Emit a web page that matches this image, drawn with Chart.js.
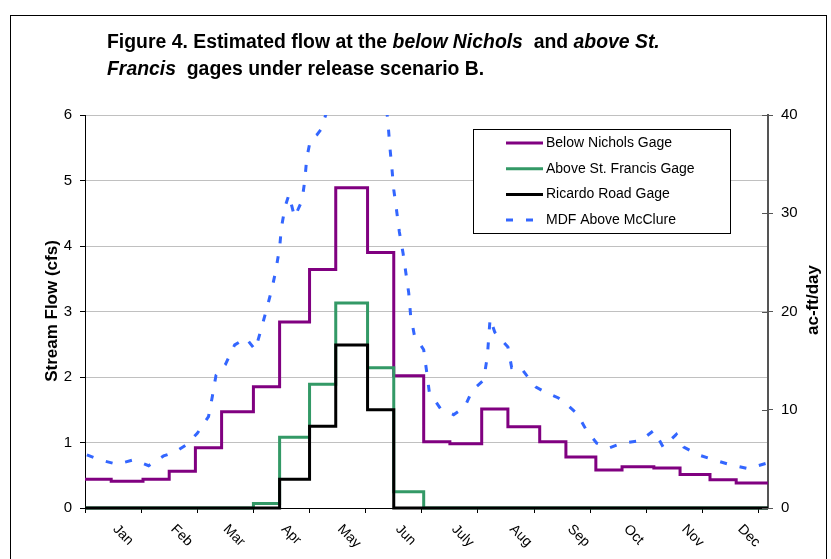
<!DOCTYPE html>
<html>
<head>
<meta charset="utf-8">
<script src="https://cdn.jsdelivr.net/npm/chart.js"></script>
<style>
  body { margin: 0; background: #fff; }
  #wrap { position: relative; width: 831px; height: 559px; overflow: hidden; }
  #frame { position: absolute; left: 10px; top: 15px; width: 815px; height: 600px; border: 1px solid #000; }
  #title { position: absolute; left: 107px; top: 28px; font: bold 19.4px "Liberation Sans", Arial, sans-serif; line-height: 27px; color: #000; }
  canvas { position: absolute; left: 0; top: 0; }
</style>
</head>
<body>
<div id="wrap">
  <div id="frame"></div>
  <canvas id="flowChart" width="831" height="559"></canvas>
  <div id="title">Figure 4. Estimated flow at the <i>below Nichols</i>&nbsp; and <i>above St.</i><br><i>Francis</i>&nbsp; gages under release scenario B.</div>
</div>

<script>
// semi-monthly release periods (day of year where each period starts)
const periodStart = [0, 14, 31, 45, 59, 73, 90, 104, 120, 134, 151, 165,
                     181, 195, 212, 226, 243, 257, 273, 287, 304, 318, 334, 348];
const yearEnd = 365;

// stream flow, cfs
const belowNichols = [0.44, 0.41, 0.44, 0.56, 0.92, 1.47, 1.85, 2.84, 3.64, 4.89, 3.90, 2.02,
                      1.01, 0.98, 1.51, 1.24, 1.01, 0.78, 0.58, 0.63, 0.61, 0.51, 0.43, 0.38];
const aboveStFrancis = [0, 0, 0, 0, 0, 0, 0.07, 1.08, 1.89, 3.13, 2.14, 0.25,
                        0, 0, 0, 0, 0, 0, 0, 0, 0, 0, 0, 0];
const ricardoRoad = [0, 0, 0, 0, 0, 0, 0, 0.44, 1.25, 2.49, 1.50, 0,
                     0, 0, 0, 0, 0, 0, 0, 0, 0, 0, 0, 0];

// MDF above McClure, ac-ft/day
const mdfDay = [1, 8, 17, 26, 34, 42, 48, 54, 60, 66, 68, 70, 75, 80, 86, 91, 94, 97, 100, 102,
                104, 105, 107, 109, 112, 116, 117.5, 118.5, 120.5, 124, 126, 129, 133, 138, 143, 148,
                153, 157, 160, 162, 163, 164, 165, 166.5, 168, 170, 171.5, 173, 174, 176, 181, 182.5,
                184, 190, 197, 203, 207, 213, 215, 216.5, 219, 223, 226, 228, 232.5, 236, 241, 247,
                253, 256.5, 263, 268, 273.5, 280, 287, 297, 304, 309, 316, 320, 328, 336, 345, 354.5, 364];
const mdfFlow = [5.4, 4.9, 4.45, 4.9, 4.3, 5.3, 5.7, 6.4, 7.6, 9.3, 11.3, 13.5, 14.6, 16.6, 17.3, 16.1, 18.1, 20.2, 22.4, 24.2,
                 26.5, 28.6, 30.7, 31.9, 29.6, 31.3, 33.4, 35.6, 37.5, 38.0, 38.5, 40.2, 42.5, 45.0, 47.0, 48.5,
                 48.0, 46.0, 43.0, 39.0, 36.6, 34.6, 32.4, 30.3, 28.1, 25.9, 23.9, 21.9, 19.6, 17.6, 16.1, 14.0,
                 11.8, 10.1, 9.5, 10.3, 12.0, 13.0, 15.4, 19.3, 17.9, 17.0, 16.4, 14.3, 14.4, 13.5, 12.3, 11.7,
                 11.2, 10.7, 9.6, 7.9, 6.6, 6.1, 6.6, 6.85, 7.9, 6.2, 7.5, 6.2, 5.4, 4.9, 4.4, 4.0, 4.55];

const monthNames = ['Jan', 'Feb', 'Mar', 'Apr', 'May', 'Jun', 'July', 'Aug', 'Sep', 'Oct', 'Nov', 'Dec'];
const monthLabelDay = [15, 46, 74, 105, 135, 166, 196, 227, 258, 288, 319, 349];
const tickDays = [0, 30, 60, 90, 120, 150, 180, 210, 240, 270, 300, 330, 360];
const rightTicks = [0, 10, 20, 30, 40];

const FONT = '"Liberation Sans", Arial, sans-serif';
Chart.defaults.font.family = FONT;
Chart.defaults.color = '#000';

function steps(values) {
    const pts = periodStart.map((d, i) => ({ x: d, y: values[i] }));
    pts.push({ x: yearEnd, y: values[values.length - 1] });
    return pts;
}

const series = [
    { label: 'Below Nichols Gage', color: '#800080' },
    { label: 'Above St. Francis Gage', color: '#339966' },
    { label: 'Ricardo Road Gage', color: '#000000' },
    { label: 'MDF Above McClure', color: '#3366ff', dash: [7, 13] }
];

/* month labels, axis titles, inner ticks and the boxed legend */
const decor = {
    id: 'decor',
    afterDraw(chart) {
        const ctx = chart.ctx;
        const xs = chart.scales.x;
        const y1 = chart.scales.y1;
        ctx.save();
        ctx.fillStyle = '#000';

        // right axis tick marks also cross into the plot
        ctx.strokeStyle = '#555';
        ctx.lineWidth = 1;
        rightTicks.forEach(v => {
            const py = Math.round(y1.getPixelForValue(v)) + 0.5;
            ctx.beginPath();
            ctx.moveTo(y1.left - 6, py);
            ctx.lineTo(y1.left, py);
            ctx.stroke();
        });

        // rotated month labels
        ctx.font = '14px ' + FONT;
        ctx.textAlign = 'left';
        ctx.textBaseline = 'middle';
        monthNames.forEach((m, i) => {
            const px = xs.getPixelForValue(monthLabelDay[i]);
            ctx.save();
            ctx.translate(px + 2, 527);
            ctx.rotate(Math.PI / 4);
            ctx.fillText(m, 0, 0);
            ctx.restore();
        });

        // axis titles
        ctx.font = 'bold 17px ' + FONT;
        ctx.textAlign = 'center';
        ctx.save();
        ctx.translate(52, 311);
        ctx.rotate(-Math.PI / 2);
        ctx.fillText('Stream Flow (cfs)', 0, 0);
        ctx.restore();
        ctx.save();
        ctx.translate(813, 300);
        ctx.rotate(-Math.PI / 2);
        ctx.fillText('ac-ft/day', 0, 0);
        ctx.restore();

        // legend
        ctx.fillStyle = '#fff';
        ctx.fillRect(473, 129.5, 258, 104);
        ctx.strokeStyle = '#000';
        ctx.lineWidth = 1;
        ctx.strokeRect(473.5, 129.5, 257, 104);
        ctx.font = '14px ' + FONT;
        ctx.textAlign = 'left';
        ctx.textBaseline = 'middle';
        series.forEach((s, i) => {
            const y = 143 + i * 25.7;
            ctx.strokeStyle = s.color;
            ctx.lineWidth = 3;
            ctx.setLineDash(s.dash || []);
            ctx.beginPath();
            ctx.moveTo(506, y);
            ctx.lineTo(543, y);
            ctx.stroke();
            ctx.setLineDash([]);
            ctx.fillStyle = '#000';
            ctx.fillText(s.label, 546, y);
        });
        ctx.restore();
    }
};

new Chart(document.getElementById('flowChart'), {
    type: 'line',
    data: {
        datasets: [
            {
                label: series[3].label,
                data: mdfDay.map((d, i) => ({ x: d, y: mdfFlow[i] })),
                yAxisID: 'y1',
                borderColor: series[3].color,
                borderWidth: 3,
                borderDash: series[3].dash,
                pointRadius: 0,
                tension: 0,
                clip: 0,
                order: 0
            },
            {
                label: series[2].label,
                data: steps(ricardoRoad),
                borderColor: series[2].color,
                borderWidth: 3,
                stepped: 'before',
                pointRadius: 0,
                clip: 2,
                order: 1
            },
            {
                label: series[1].label,
                data: steps(aboveStFrancis),
                borderColor: series[1].color,
                borderWidth: 3,
                stepped: 'before',
                pointRadius: 0,
                clip: 2,
                order: 2
            },
            {
                label: series[0].label,
                data: steps(belowNichols),
                borderColor: series[0].color,
                borderWidth: 3,
                stepped: 'before',
                pointRadius: 0,
                clip: 2,
                order: 3
            }
        ]
    },
    options: {
        responsive: false,
        animation: false,
        layout: { padding: { top: 115, left: 0, right: 0, bottom: 0 } },
        plugins: {
            legend: { display: false },
            tooltip: { enabled: false },
            title: { display: false }
        },
        scales: {
            x: {
                type: 'linear',
                min: 0,
                max: yearEnd,
                afterBuildTicks: s => { s.ticks = tickDays.map(v => ({ value: v })); },
                afterFit: s => { s.height = 51; },
                ticks: { display: false },
                grid: { drawOnChartArea: false, tickLength: 5, color: '#000' },
                border: { color: '#000' }
            },
            y: {
                position: 'left',
                min: 0,
                max: 6,
                afterFit: s => { s.width = 85; },
                ticks: { stepSize: 1, padding: 8, font: { size: 15 } },
                grid: { color: '#c0c0c0', tickColor: '#000', tickLength: 5 },
                border: { color: '#000' }
            },
            y1: {
                position: 'right',
                min: 0,
                max: 40,
                afterFit: s => { s.width = 63; },
                ticks: { stepSize: 10, padding: 8, font: { size: 15 } },
                grid: { drawOnChartArea: false, tickLength: 5, color: '#555' },
                border: { color: '#555', width: 2 }
            }
        }
    },
    plugins: [decor]
});
</script>
</body>
</html>
